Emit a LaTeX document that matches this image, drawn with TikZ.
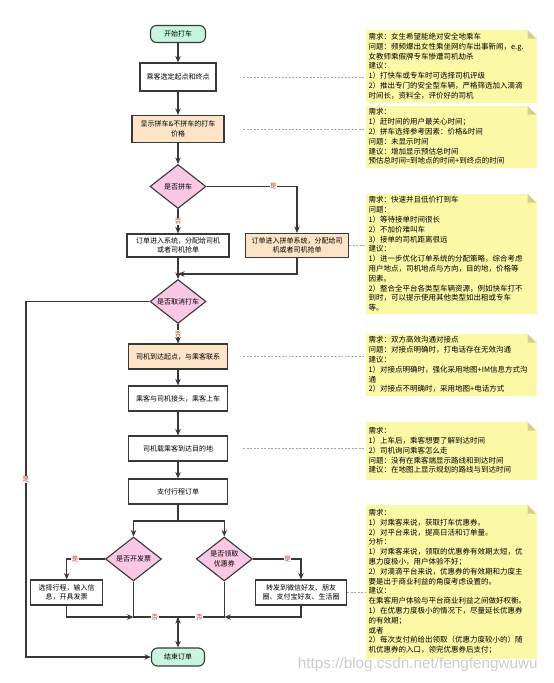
\documentclass[tikz,border=0pt]{standalone}
\usepackage{fontspec}
\setmainfont{Noto Sans CJK SC}
\newfontfamily\wmfont{Liberation Sans}
\usepackage{tikz}
\usetikzlibrary{shapes.geometric, positioning, arrows.meta}
\definecolor{mint}{HTML}{C8F5E0}
\definecolor{peach}{HTML}{FDE4C6}
\definecolor{pinky}{HTML}{FAC8E4}
\definecolor{noteyellow}{HTML}{FCF9A6}
\definecolor{notefold}{HTML}{D4CD8C}
\definecolor{yesno}{HTML}{C0392B}
\definecolor{ink}{HTML}{383838}

\begin{document}
\begin{tikzpicture}[->,>={Stealth[length=6.5pt,width=5.5pt]},x=1pt,y=-1pt,line width=1.1pt,draw=ink,
	term/.style={rounded corners=6pt, draw=ink, fill=mint, minimum width=55pt, minimum height=17pt, inner sep=1pt},
	box/.style={draw=ink, fill=white, align=center, minimum width=99pt, minimum height=25pt, inner sep=1pt},
	decision/.style={diamond, aspect=1.3, draw=ink, fill=pinky, align=center, minimum width=56pt, minimum height=44pt, inner sep=0pt},
	yn/.style={text=yesno, fill=white, inner sep=0.6pt, font=\fontsize{6.5}{7}\selectfont},
	hv/.style={to path={-| (\tikztotarget) \tikztonodes}},
	vh/.style={to path={|- (\tikztotarget) \tikztonodes}},
	memo/.style={-, draw=black!35, line width=0.5pt, dash pattern=on 2pt off 1.5pt},
	note/.style={anchor=north west, fill=noteyellow, text width=165pt, align=left, inner sep=3pt,
		font=\fontsize{7.5}{9.8}\selectfont,
		path picture={
			\fill[notefold] ([xshift=-9pt]path picture bounding box.north east) -- ([xshift=-9pt,yshift=-9pt]path picture bounding box.north east) -- ([yshift=-9pt]path picture bounding box.north east) -- cycle;
			\fill[white] ([xshift=-9pt]path picture bounding box.north east) -- (path picture bounding box.north east) -- ([yshift=-9pt]path picture bounding box.north east) -- cycle;}}]
		\useasboundingbox (0,0) rectangle (554,683);
		\fontsize{7}{9.5}\selectfont

		% flow
		\node[term												] (start) 		at (178,34) {开始打车};
		\node[box, minimum width=76pt, minimum height=28pt, node distance=43pt, below of=start		] (pick) 		{乘客选定起点和终点};
		\node[box, fill=peach, minimum width=92pt, minimum height=27pt, node distance=52pt, below of=pick	] (price) 		{显示拼车\&不拼车的打车\\价格};
		\node[decision, node distance=57.5pt, below of=price					] (pool) 		{是否拼车};
		\node[box, minimum width=102pt, minimum height=23pt, node distance=59pt, below of=pool	] (order) 		{订单进入系统，分配给司机\\或者司机抢单};
		\node[box, fill=peach, minimum width=103pt, minimum height=24pt, node distance=119pt, right of=order] (poolorder) {订单进入拼单系统，分配给司\\机或者司机抢单};
		\node[decision, node distance=56pt, below of=order					] (cancel) 		{是否取消打车};
		\node[box, fill=peach, node distance=55pt, below of=cancel				] (arrive) 		{司机到达起点，与乘客联系};
		\node[box, node distance=42pt, below of=arrive						] (board) 		{乘客与司机接头，乘客上车};
		\node[box, node distance=50pt, below of=board						] (ride) 		{司机载乘客到达目的地};
		\node[box, node distance=43pt, below of=ride						] (pay) 		{支付行程订单};
		\node[decision, node distance=67.5pt, below of=pay, xshift=-44.5pt			] (invoice) 	{是否开发票};
		\node[decision, node distance=67.5pt, below of=pay, xshift=46.3pt			] (coupon) 		{是否领取\\优惠券};
		\node[box, minimum width=72pt, node distance=33.5pt, below of=invoice, xshift=-66.8pt	] (invoicebox) 	{选择行程，输入信\\息，开具发票};
		\node[box, minimum width=91pt, node distance=33.5pt, below of=coupon, xshift=76.7pt	] (sharebox) 	{转发到微信好友、朋友\\圈、支付宝好友、生活圈};
		\node[term, minimum width=53pt, minimum height=18pt, node distance=165.5pt, below of=pay	] (finish) 		{结束订单};

		\coordinate (join)	at (178,274);
		\coordinate (rail)	at (26,301.5);
		\coordinate (split)	at (178,521);
		\coordinate (merge)	at (178,617);
		\coordinate (mL)	at (invoice |- merge);
		\coordinate (mR)	at (coupon |- merge);
		\coordinate (gap)	at (243,0);

		\draw	(start)			edge							(pick)
				(pick)			edge							(price)
				(price)			edge							(pool)
				(pool)			edge						node[yn]{否}			(order)
				(pool.east)		edge[hv]					node[yn, pos=0.37]{是}	(poolorder.north)
				(order)			edge							(cancel)
				(poolorder.south)	edge[vh]						(join)
				(cancel)		edge						node[yn]{否}			(arrive)
				(arrive)		edge							(board)
				(board)			edge							(ride)
				(ride)			edge							(pay)
				(pay.south)		edge[-]							(split)
				(split)			edge[hv]						(invoice.north)
				(split)			edge[hv]						(coupon.north)
				(invoice.west)	edge[hv]					node[yn, pos=0.39]{是}	(invoicebox.north)
				(coupon.east)	edge[hv]					node[yn, pos=0.36]{是}	(sharebox.north)
				(invoice.south)	edge[-, vh]					node[yn, pos=0.74]{否}	(merge)
				(coupon.south)	edge[-, vh]					node[yn, pos=0.77]{否}	(merge)
				(invoicebox.south)	edge[vh]						(mL)
				(sharebox.south)	edge[vh]						(mR)
				(merge)			edge							(finish)
				;
		\draw	(cancel.west) -- (rail) |- node[yn, pos=0.25]{是} (finish.west);

		% notes
		\node[note, minimum height=73pt] (n1) at (365,29) {需求：女生希望能绝对安全地乘车\\问题：频频爆出女性乘坐网约车出事新闻，e.g.\\女教师乘假牌专车惨遭司机劫杀\\建议：\\1）打快车或专车时可选择司机评级\\2）推出专门的安全型车辆，严格筛选加入滴滴\\时间长，资料全，评价好的司机};
		\node[note, minimum height=62pt] (n2) at (365,105) {需求：\\1）赶时间的用户最关心时间；\\2）拼车选择参考因素：价格\&时间\\问题：未显示时间\\建议：增加显示预估总时间\\预估总时间=到地点的时间+到终点的时间};
		\node[note, minimum height=119pt] (n3) at (365,193) {需求：快速并且低价打到车\\问题：\\1）等待接单时间很长\\2）不加价难叫车\\3）接单的司机距离很远\\建议：\\1）进一步优化订单系统的分配策略，综合考虑\\用户地点，司机地点与方向，目的地，价格等\\因素。\\2）整合全平台各类型车辆资源，例如快车打不\\到时，可以提示使用其他类型如出租或专车\\等。};
		\node[note, minimum height=62pt] (n4) at (365,333) {需求：双方高效沟通对接点\\问题：对接点明确时，打电话存在无效沟通\\建议：\\1）对接点明确时，强化采用地图+IM信息方式沟\\通\\2）对接点不明确时，采用地图+电话方式};
		\node[note, minimum height=58pt] (n5) at (365,421) {需求：\\1）上车后，乘客想要了解到达时间\\2）司机询问乘客怎么走\\问题：没有在乘客端显示路线和到达时间\\建议：在地图上显示规划的路线与到达时间};
		\node[note, minimum height=154pt] (n6) at (365,504) {需求：\\1）对乘客来说，获取打车优惠券。\\2）对平台来说，提高日活和订单量。\\分析：\\1）对乘客来说，领取的优惠券有效期太短，优\\惠力度极小，用户体验不好；\\2）对滴滴平台来说，优惠券的有效期和力度主\\要是出于商业利益的角度考虑设置的。\\建议：\\在乘客用户体验与平台商业利益之间做好权衡。\\1）在优惠力度极小的情况下，尽量延长优惠券\\的有效期；\\或者\\2）每次支付前给出领取（优惠力度较小的）随\\机优惠券的入口，领完优惠券后支付；};

		\draw[memo]	(gap |- pick.east)		-- (n1.west |- pick.east);
		\draw[memo]	(gap |- price.east)		-- (n2.west |- price.east);
		\draw[memo]	(poolorder.east)		-- (n3.west |- poolorder.east);
		\draw[memo]	(gap |- arrive.east)	-- (n4.west |- arrive.east);
		\draw[memo]	(gap |- ride.east)		-- (n5.west |- ride.east);
		\draw[memo]	(sharebox.east)			-- (n6.west |- sharebox.east);

		\node[anchor=west, text=black!20, font=\wmfont\fontsize{15.3}{16}\selectfont] (mark) at (295,665) {https://blog.csdn.net/fengfengwuwu};
	\end{tikzpicture}
\end{document}
